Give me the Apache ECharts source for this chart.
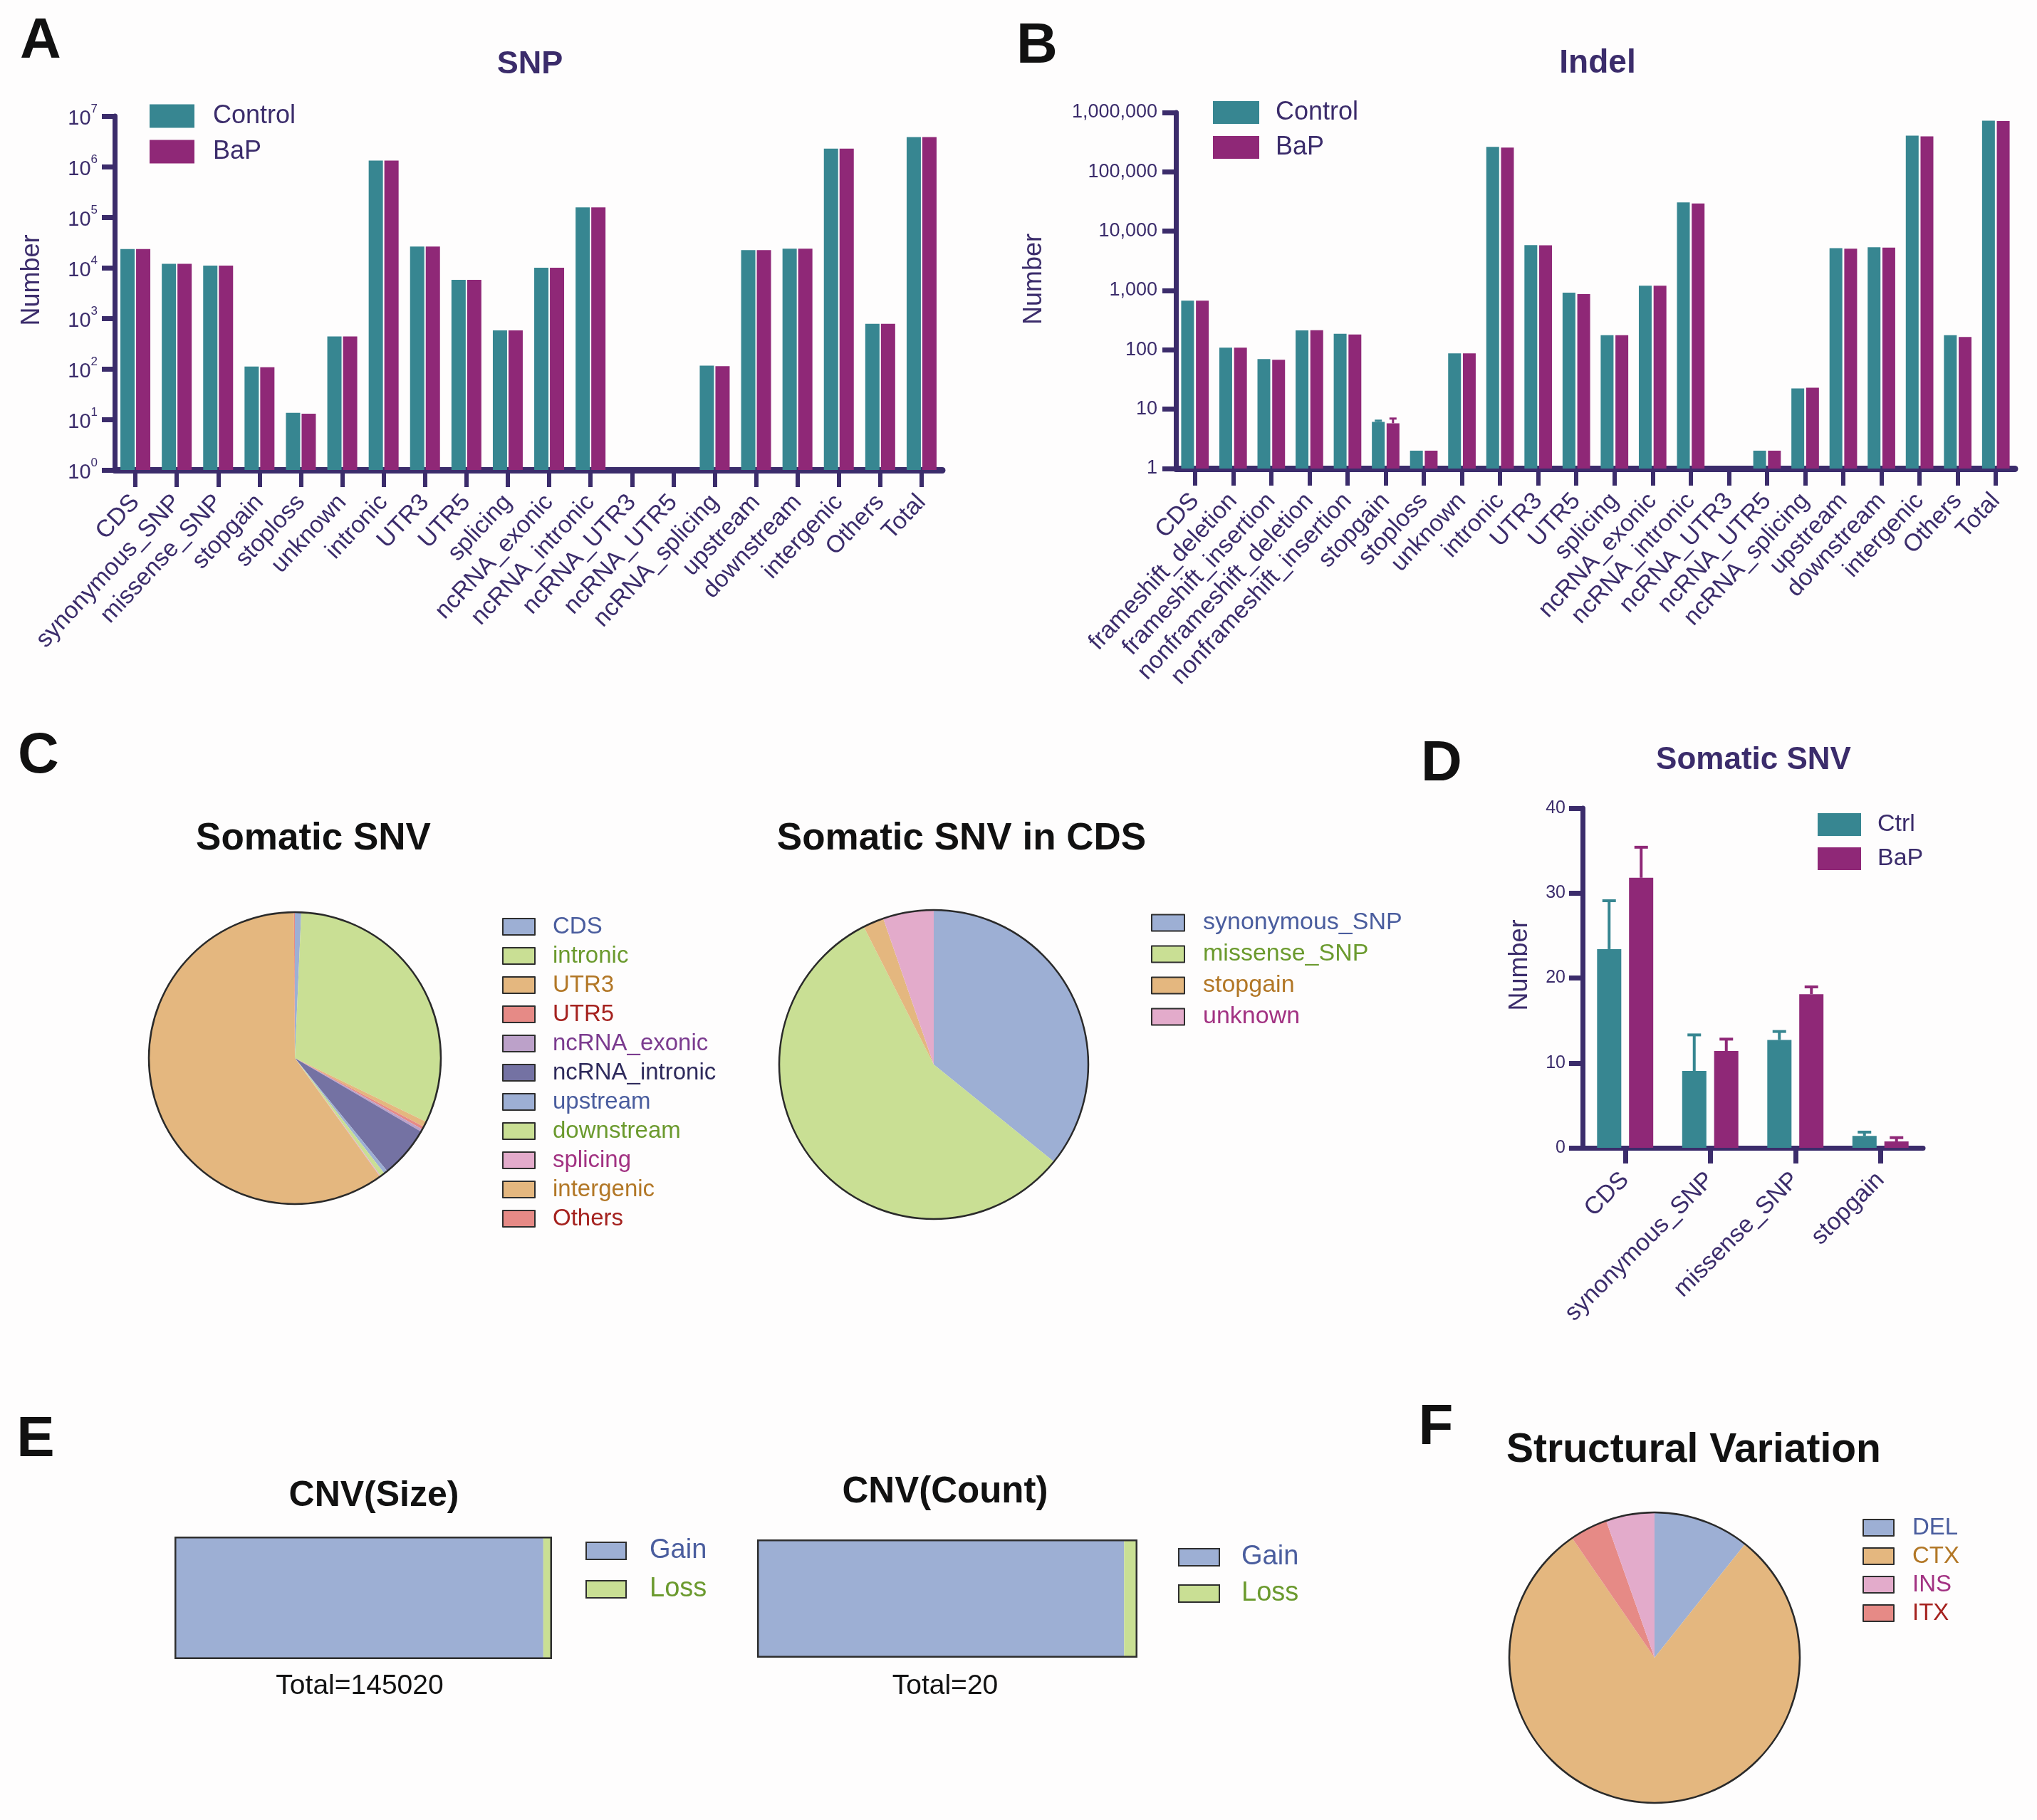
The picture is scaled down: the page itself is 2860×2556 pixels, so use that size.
<!DOCTYPE html>
<html><head><meta charset="utf-8">
<script src="https://cdn.jsdelivr.net/npm/echarts/dist/echarts.min.js"></script>
<style>html,body{margin:0;padding:0;background:#fefdfd}#c{width:2860px;height:2556px}</style>
</head><body><div id="c"></div>
<script>
// ---------------- DATA ----------------
const snpCats = ['CDS','synonymous_SNP','missense_SNP','stopgain','stoploss','unknown','intronic','UTR3','UTR5','splicing','ncRNA_exonic','ncRNA_intronic','ncRNA_UTR3','ncRNA_UTR5','ncRNA_splicing','upstream','downstream','intergenic','Others','Total'];
const snpControl = [23400, 12000, 11000, 111, 13.5, 437, 1320000, 26300, 5750, 575, 10000, 156000, null, null, 116, 22400, 23800, 2270000, 780, 3850000];
const snpBaP     = [23400, 12000, 11000, 108, 13,   437, 1320000, 26300, 5750, 575, 10000, 156000, null, null, 113, 22400, 23800, 2270000, 780, 3850000];

const indelCats = ['CDS','frameshift_deletion','frameshift_insertion','nonframeshift_deletion','nonframeshift_insertion','stopgain','stoploss','unknown','intronic','UTR3','UTR5','splicing','ncRNA_exonic','ncRNA_intronic','ncRNA_UTR3','ncRNA_UTR5','ncRNA_splicing','upstream','downstream','intergenic','Others','Total'];
const indelControl = [676, 109, 70, 213, 187, 6.1, 2, 87, 264000, 5840, 918, 176, 1205, 30500, null, 2, 22.4, 5160, 5350, 406000, 176, 726000];
const indelBaP     = [676, 109, 68, 215, 181, 5.8, 2, 87, 257000, 5800, 873, 176, 1205, 29400, null, 2, 23,   5070, 5300, 397000, 165, 719000];
const indelErrControl = [null,null,null,null,null,6.4,null,null,null,null,null,null,null,null,null,null,null,null,null,null,null,null];
const indelErrBaP     = [null,null,null,null,null,6.95,null,null,null,null,null,null,null,null,null,null,null,null,null,null,null,null];

const somaticCats  = ['CDS','intronic','UTR3','UTR5','ncRNA_exonic','ncRNA_intronic','upstream','downstream','splicing','intergenic','Others'];
const somaticShare = [0.7, 31.5, 0.6, 0.3, 0.3, 5.7, 0.4, 0.5, 0.1, 59.8, 0.1];

const cdsCats  = ['synonymous_SNP','missense_SNP','stopgain','unknown'];
const cdsShare = [11.5, 18.2, 0.7, 1.7];

const dCats = ['CDS','synonymous_SNP','missense_SNP','stopgain'];
const dCtrl    = [23.4, 9.05, 12.7, 1.4];
const dCtrlErr = [29.1, 13.3, 13.7, 1.85];
const dBaP     = [31.8, 11.4, 18.1, 0.75];
const dBaPErr  = [35.4, 12.8, 18.95, 1.2];

const cnvParts = ['Gain','Loss'];
const cnvSizeShare  = [97.7, 2.3];
const cnvCountShare = [96.5, 3.5];
const cnvSizeTotal = 145020;
const cnvCountTotal = 20;

const svCats  = ['DEL','CTX','ITX','INS'];
const svShare = [10.7, 79.7, 4.2, 5.4];
const svLegendOrder = ['DEL','CTX','INS','ITX'];

// ---------------- STYLE ----------------
const FONT = '"Liberation Sans", Arial, Helvetica, sans-serif';
const PURPLE = '#3b2c6b';
const TEAL = '#378691';
const MAG = '#8f2877';
const fill = {CDS:'#9dafd4', intronic:'#c9df94', UTR3:'#e4b77f', UTR5:'#e68a86', ncRNA_exonic:'#bca1c9', ncRNA_intronic:'#7472a3', upstream:'#9dafd4', downstream:'#c9df94', splicing:'#e3abcb', intergenic:'#e4b77f', Others:'#e68a86',
  synonymous_SNP:'#9dafd4', missense_SNP:'#c9df94', stopgain:'#e4b77f', unknown:'#e3abcb',
  Gain:'#9dafd4', Loss:'#c9df94', DEL:'#9dafd4', CTX:'#e4b77f', INS:'#e3abcb', ITX:'#e68a86'};
const ink = {CDS:'#4a5d9e', intronic:'#6b9a2e', UTR3:'#b27726', UTR5:'#a5221f', ncRNA_exonic:'#7b3b8f', ncRNA_intronic:'#2f2b5c', upstream:'#4a5d9e', downstream:'#6b9a2e', splicing:'#a23282', intergenic:'#b27726', Others:'#a5221f',
  synonymous_SNP:'#4a5d9e', missense_SNP:'#6b9a2e', stopgain:'#b27726', unknown:'#a23282',
  Gain:'#4a5d9e', Loss:'#6b9a2e', DEL:'#4a5d9e', CTX:'#b27726', INS:'#a23282', ITX:'#a5221f'};

function T(text, x, y, size, color, weight) {
  return {text, left:x, top:y, textAlign:'center', textVerticalAlign:'middle', padding:0,
    textStyle:{fontSize:size, fontWeight:weight||'bold', color:color||'#111', fontFamily:FONT}};
}
function errRender(offset, color, capHalf, lw) {
  return function(params, api) {
    const i = api.value(0), v = api.value(1), e = api.value(2);
    if (e == null || isNaN(e)) return null;
    const p0 = api.coord([i, v]), p1 = api.coord([i, e]);
    const x = p0[0] + offset;
    return {type:'group', children:[
      {type:'line', shape:{x1:x, y1:p0[1], x2:x, y2:p1[1]}, style:{stroke:color, lineWidth:lw}},
      {type:'line', shape:{x1:x-capHalf, y1:p1[1], x2:x+capHalf, y2:p1[1]}, style:{stroke:color, lineWidth:lw}}
    ]};
  };
}
function catAxis(gi, data, o) {
  return {type:'category', gridIndex:gi, data,
    axisLine:{show:true, lineStyle:{color:PURPLE, width:o.lw}},
    axisTick:{show:true, alignWithLabel:true, length:o.tl, lineStyle:{color:PURPLE, width:o.tw}},
    axisLabel:{interval:0, rotate:o.rot, margin:o.margin, fontSize:o.fs, color:PURPLE, fontFamily:FONT},
    splitLine:{show:false}};
}
function legendBox(o) {
  return Object.assign({orient:'vertical', padding:0, icon:'rect', selectedMode:false,
    itemStyle:{borderColor:'#2e2e2e', borderWidth:2}}, o);
}
const legendItems = names => names.map(n => ({name:n, textStyle:{color:ink[n]}}));
const pieData = (names, vals) => names.map((n,i) => ({name:n, value:vals[i], itemStyle:{color:fill[n]}}));
function outlinePie(center, r) {
  return {type:'pie', center, radius:r, silent:true, z:5, label:{show:false}, labelLine:{show:false},
    data:[{name:'outline', value:1}], itemStyle:{color:'rgba(0,0,0,0)', borderColor:'#2a2a2a', borderWidth:2.5}};
}
function mainPie(center, r, names, vals) {
  return {type:'pie', center, radius:r, startAngle:90, clockwise:true, silent:true, label:{show:false}, labelLine:{show:false},
    itemStyle:{borderWidth:0}, emphasis:{disabled:true}, data:pieData(names, vals)};
}
const nameStyle = pad => ({fontSize:36, color:PURPLE, fontFamily:FONT, padding:[0,0,0,pad]});

const chart = echarts.init(document.getElementById('c'), null, {renderer:'canvas'});
const option = {
  animation:false,
  backgroundColor:'#fefdfd',
  textStyle:{fontFamily:FONT},
  title:[
    T('A', 57, 59, 80), T('SNP', 744, 91, 45, PURPLE),
    T('B', 1456, 66, 80), T('Indel', 2243, 89, 46, PURPLE),
    T('C', 54, 1063, 80), T('Somatic SNV', 440, 1178, 53), T('Somatic SNV in CDS', 1350, 1178, 53),
    T('D', 2024, 1074, 80), T('Somatic SNV', 2462, 1068, 44, PURPLE),
    T('E', 50, 2023, 80), T('CNV(Size)', 525, 2101, 50), T('CNV(Count)', 1327, 2096, 51),
    T('Total=' + cnvSizeTotal, 505, 2368, 39, '#111', 'normal'), T('Total=' + cnvCountTotal, 1327, 2368, 39, '#111', 'normal'),
    T('F', 2016, 2006, 80), T('Structural Variation', 2378, 2037, 57)
  ],
  legend:[
    {left:210, top:145, orient:'vertical', padding:0, icon:'rect', selectedMode:false, itemWidth:63, itemHeight:33, itemGap:14,
      data:['Control','BaP'], textStyle:{fontSize:36, color:PURPLE, fontFamily:FONT, padding:[0,0,0,21]}},
    {left:1703, top:140, orient:'vertical', padding:0, icon:'rect', selectedMode:false, itemWidth:65, itemHeight:32, itemGap:13,
      data:['Control','BaP'], textStyle:{fontSize:36, color:PURPLE, fontFamily:FONT, padding:[0,0,0,18]}},
    {left:2552, top:1141, orient:'vertical', padding:0, icon:'rect', selectedMode:false, itemWidth:61, itemHeight:32, itemGap:14,
      data:['Ctrl','BaP'], textStyle:{fontSize:34, color:PURPLE, fontFamily:FONT, padding:[0,0,0,18]}},
    legendBox({left:705, top:1285, itemWidth:45, itemHeight:23, itemGap:8, data:legendItems(somaticCats),
      textStyle:{fontSize:33, fontFamily:FONT, padding:[0,0,0,20]}}),
    legendBox({left:1616, top:1279, itemWidth:46, itemHeight:23, itemGap:10, data:legendItems(cdsCats),
      textStyle:{fontSize:34, fontFamily:FONT, padding:[0,0,0,21]}}),
    legendBox({left:822, top:2159, itemWidth:56, itemHeight:24, itemGap:16, data:legendItems(cnvParts),
      textStyle:{fontSize:38, fontFamily:FONT, padding:[0,0,0,28]}}),
    legendBox({left:1654, top:2168, itemWidth:57, itemHeight:24, itemGap:13, data:legendItems(cnvParts),
      textStyle:{fontSize:38, fontFamily:FONT, padding:[0,0,0,26]}}),
    legendBox({left:2615, top:2129, itemWidth:43, itemHeight:23, itemGap:7, data:legendItems(svLegendOrder),
      textStyle:{fontSize:33, fontFamily:FONT, padding:[0,0,0,21]}})
  ],
  grid:[
    {left:161, top:163, width:1162, height:497, containLabel:false, outerBoundsMode:'none'},
    {left:1651, top:158, width:1178, height:500, containLabel:false, outerBoundsMode:'none'},
    {left:2222, top:1135, width:478, height:477, containLabel:false, outerBoundsMode:'none'},
    {left:245, top:2158, width:530, height:172, containLabel:false, outerBoundsMode:'none'},
    {left:1063, top:2162, width:534, height:166, containLabel:false, outerBoundsMode:'none'}
  ],
  xAxis:[
    catAxis(0, snpCats, {lw:9, tl:24, tw:6, rot:47, margin:40, fs:34}),
    catAxis(1, indelCats, {lw:9, tl:24, tw:6, rot:47, margin:40, fs:34}),
    catAxis(2, dCats, {lw:7, tl:22, tw:7, rot:45, margin:40, fs:34}),
    {type:'value', gridIndex:3, min:0, max:100, show:false},
    {type:'value', gridIndex:4, min:0, max:100, show:false}
  ],
  yAxis:[
    {type:'log', gridIndex:0, logBase:10, min:1, max:1e7, splitNumber:7,
      axisLine:{show:true, lineStyle:{color:PURPLE, width:7}},
      axisTick:{show:true, length:18, lineStyle:{color:PURPLE, width:7}},
      splitLine:{show:false}, minorTick:{show:false},
      axisLabel:{margin:24, formatter: v => '{b|10}{s|' + Math.round(Math.log10(v)) + '}',
        rich:{b:{fontSize:29, color:PURPLE, fontFamily:FONT, lineHeight:36, verticalAlign:'bottom'},
              s:{fontSize:17, color:PURPLE, fontFamily:FONT, lineHeight:17, verticalAlign:'top'}}},
      name:'Number', nameLocation:'middle', nameGap:98, nameTextStyle:nameStyle(36)},
    {type:'log', gridIndex:1, logBase:10, min:1, max:1e6, splitNumber:6,
      axisLine:{show:true, lineStyle:{color:PURPLE, width:7}},
      axisTick:{show:true, length:19, lineStyle:{color:PURPLE, width:7}},
      splitLine:{show:false},
      axisLabel:{margin:26, fontSize:27, color:PURPLE, fontFamily:FONT, formatter: v => Math.round(v).toLocaleString('en-US')},
      name:'Number', nameLocation:'middle', nameGap:181, nameTextStyle:nameStyle(32)},
    {type:'value', gridIndex:2, min:0, max:40, interval:10,
      axisLine:{show:true, lineStyle:{color:PURPLE, width:7}},
      axisTick:{show:true, length:19, lineStyle:{color:PURPLE, width:7}},
      splitLine:{show:false},
      axisLabel:{margin:24, fontSize:25, color:PURPLE, fontFamily:FONT},
      name:'Number', nameLocation:'middle', nameGap:70, nameTextStyle:nameStyle(36)},
    {type:'category', gridIndex:3, data:['size'], show:false},
    {type:'category', gridIndex:4, data:['count'], show:false}
  ],
  series:[
    {type:'bar', name:'Control', xAxisIndex:0, yAxisIndex:0, data:snpControl, barWidth:20, barGap:'10%', itemStyle:{color:TEAL}},
    {type:'bar', name:'BaP', xAxisIndex:0, yAxisIndex:0, data:snpBaP, barWidth:20, barGap:'10%', itemStyle:{color:MAG}},
    {type:'bar', name:'Control', xAxisIndex:1, yAxisIndex:1, data:indelControl, barWidth:18, barGap:'15%', itemStyle:{color:TEAL}},
    {type:'bar', name:'BaP', xAxisIndex:1, yAxisIndex:1, data:indelBaP, barWidth:18, barGap:'15%', itemStyle:{color:MAG}},
    {type:'custom', name:'errIndelCtrl', xAxisIndex:1, yAxisIndex:1, z:3, silent:true, renderItem:errRender(-10.3, TEAL, 5, 3),
      data:indelCats.map((c,i) => [i, indelControl[i], indelErrControl[i]])},
    {type:'custom', name:'errIndelBaP', xAxisIndex:1, yAxisIndex:1, z:3, silent:true, renderItem:errRender(10.3, MAG, 5, 3),
      data:indelCats.map((c,i) => [i, indelBaP[i], indelErrBaP[i]])},
    {type:'bar', name:'Ctrl', xAxisIndex:2, yAxisIndex:2, data:dCtrl, barWidth:34, barGap:'32%', itemStyle:{color:TEAL}},
    {type:'bar', name:'BaP', xAxisIndex:2, yAxisIndex:2, data:dBaP, barWidth:34, barGap:'32%', itemStyle:{color:MAG}},
    {type:'custom', name:'errDCtrl', xAxisIndex:2, yAxisIndex:2, z:1, silent:true, renderItem:errRender(-22.5, TEAL, 9.5, 4),
      data:dCats.map((c,i) => [i, dCtrl[i], dCtrlErr[i]])},
    {type:'custom', name:'errDBaP', xAxisIndex:2, yAxisIndex:2, z:1, silent:true, renderItem:errRender(22.5, MAG, 9.5, 4),
      data:dCats.map((c,i) => [i, dBaP[i], dBaPErr[i]])},
    mainPie([414,1486], 205, somaticCats, somaticShare), outlinePie([414,1486], 205),
    mainPie([1311,1495], 217, cdsCats, cdsShare), outlinePie([1311,1495], 217),
    mainPie([2323,2328], 204, svCats, svShare), outlinePie([2323,2328], 204),
    {type:'bar', name:'Gain', xAxisIndex:3, yAxisIndex:3, stack:'size', data:[cnvSizeShare[0]], barWidth:'100%', barGap:'-100%', itemStyle:{color:fill.Gain}},
    {type:'bar', name:'Loss', xAxisIndex:3, yAxisIndex:3, stack:'size', data:[cnvSizeShare[1]], barWidth:'100%', barGap:'-100%', itemStyle:{color:fill.Loss}},
    {type:'bar', name:'outlineSize', xAxisIndex:3, yAxisIndex:3, data:[cnvSizeShare[0] + cnvSizeShare[1]], barWidth:'100%', barGap:'-100%', z:5, silent:true,
      itemStyle:{color:'rgba(0,0,0,0)', borderColor:'#2e2e2e', borderWidth:2.5}},
    {type:'bar', name:'Gain', xAxisIndex:4, yAxisIndex:4, stack:'count', data:[cnvCountShare[0]], barWidth:'100%', barGap:'-100%', itemStyle:{color:fill.Gain}},
    {type:'bar', name:'Loss', xAxisIndex:4, yAxisIndex:4, stack:'count', data:[cnvCountShare[1]], barWidth:'100%', barGap:'-100%', itemStyle:{color:fill.Loss}},
    {type:'bar', name:'outlineCount', xAxisIndex:4, yAxisIndex:4, data:[cnvCountShare[0] + cnvCountShare[1]], barWidth:'100%', barGap:'-100%', z:5, silent:true,
      itemStyle:{color:'rgba(0,0,0,0)', borderColor:'#2e2e2e', borderWidth:2.5}}
  ]
};
chart.setOption(option);
</script>
</body></html>
